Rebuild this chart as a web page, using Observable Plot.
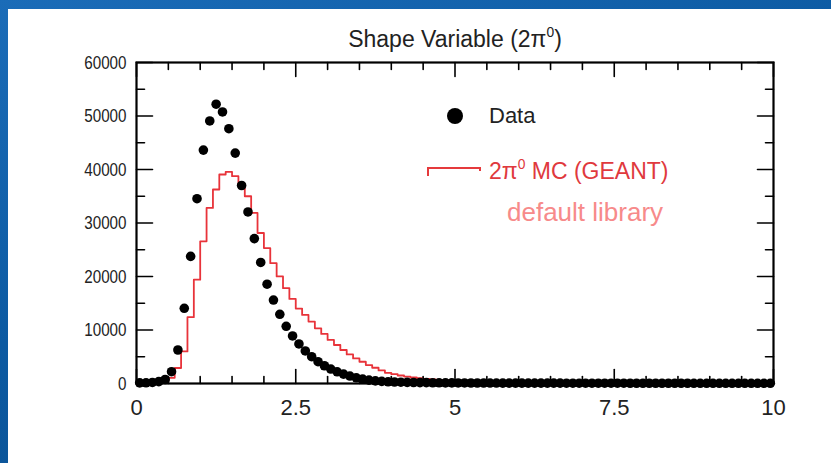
<!DOCTYPE html>
<html>
<head>
<meta charset="utf-8">
<script src="https://cdn.jsdelivr.net/npm/d3@7"></script>
<script src="https://cdn.jsdelivr.net/npm/@observablehq/plot@0.6"></script>
<style>
  html, body { margin: 0; padding: 0; }
  #page { position: relative; width: 831px; height: 463px; overflow: hidden;
    background: linear-gradient(160deg, #1b6cb8 0%, #0c5aa2 45%, #0a4a88 100%);
    font-family: "Liberation Sans", Arial, Helvetica, sans-serif; }
  #panel { position: absolute; left: 8px; top: 9px; right: 0; bottom: 0; background: #fff; }
  #chart { position: absolute; left: 0; top: 0; }
  .abs { position: absolute; white-space: nowrap; line-height: 1; }
  #title { left: 255px; width: 400px; top: 28px; text-align: center; font-size: 23px; color: #222; }
  sup { font-size: 0.6em; line-height: 0; vertical-align: 0.75em; }
</style>
</head>
<body>
<div id="page">
  <div id="panel"></div>
  <div id="chart"></div>
  <div id="title" class="abs">Shape Variable (2&pi;<sup>0</sup>)</div>
  <svg class="abs" style="left:444px;top:105px" width="22" height="22"><circle cx="11" cy="11" r="8" fill="#000"/></svg>
  <div class="abs" style="left:489px;top:105px;font-size:22px;color:#222">Data</div>
  <svg class="abs" style="left:426px;top:164px" width="58" height="16"><path d="M2,12V4H54V7" fill="none" stroke="#e53a3c" stroke-width="2"/></svg>
  <div class="abs" style="left:489px;top:160px;font-size:23px;color:#e0393d">2&pi;<sup>0</sup> MC (GEANT)</div>
  <div class="abs" style="left:507px;top:199px;font-size:26px;color:#f78a8a">default library</div>
</div>
<script>
// ---- data (bins of width 0.1 from 0 to 10) ----
const binWidth = 0.1;
const dataCounts = [
  120, 130, 200, 350, 750, 2200, 6260, 14060, 23760, 34540,
  43630, 49070, 52200, 50760, 47630, 43070, 37010, 32060, 27080, 22630,
  18560, 15600, 12940, 10690, 8890, 7390, 6080, 5010, 4070, 3320,
  2700, 2190, 1760, 1390, 1070, 820, 640, 500, 400, 330,
  280, 240, 210, 190, 170, 155, 140, 130, 120, 110,
  105, 100, 96, 92, 88, 85, 82, 79, 76, 74,
  72, 70, 68, 66, 64, 62, 61, 60, 59, 58,
  57, 56, 55, 54, 53, 52, 51, 50, 49, 48,
  48, 47, 46, 46, 45, 44, 44, 43, 43, 42,
  42, 41, 41, 40, 40, 40, 39, 39, 38, 38
];
const mcCounts = [
  0, 0, 20, 100, 450, 1070, 2900, 6000, 12400, 19400,
  26570, 32810, 36260, 39070, 39560, 38750, 37200, 35000, 31880, 28130,
  25310, 22500, 20010, 17810, 15800, 14000, 12820, 11570, 10310, 9260,
  8140, 7200, 6260, 5440, 4690, 4070, 3450, 2940, 2440, 2000,
  1750, 1500, 1300, 1120, 980, 860, 760, 680, 620, 570,
  530, 500, 480, 460, 450, 440, 430, 420, 410, 405,
  400, 395, 390, 386, 382, 378, 375, 372, 369, 366,
  363, 360, 358, 356, 354, 352, 350, 348, 346, 344,
  342, 340, 338, 337, 336, 335, 334, 333, 332, 331,
  330, 329, 328, 327, 326, 325, 324, 323, 322, 321
];
const xTicks = [0, 2.5, 5, 7.5, 10];
const xTickLabels = ["0", "2.5", "5", "7.5", "10"];
const xMinorTicks = [0.5, 1, 1.5, 2, 3, 3.5, 4, 4.5, 5.5, 6, 6.5, 7, 8, 8.5, 9, 9.5];
const yTicks = [0, 10000, 20000, 30000, 40000, 50000, 60000];
const yTickLabels = ["0", "10000", "20000", "30000", "40000", "50000", "60000"];
const yMinorTicks = [5000, 15000, 25000, 35000, 45000, 55000];

const dots = dataCounts.map((v, i) => ({x: (i + 0.5) * binWidth, v}));
const steps = mcCounts.map((v, i) => ({x: i * binWidth, v}));
steps.push({x: mcCounts.length * binWidth, v: mcCounts[mcCounts.length - 1]});

const tickShape = {draw(ctx, l) { ctx.moveTo(0, 0); ctx.lineTo(0, -l); }};
function ticks(vals, len, side) {
  const o = {shape: tickShape, length: len, anchor: "start", stroke: "#000", strokeWidth: 1.6};
  if (side === "bottom") return Plot.vector(vals, {...o, x: d => d, y: () => 0, rotate: 0});
  if (side === "top") return Plot.vector(vals, {...o, x: d => d, y: () => 60000, rotate: 180});
  if (side === "left") return Plot.vector(vals, {...o, x: () => 0, y: d => d, rotate: 90});
  return Plot.vector(vals, {...o, x: () => 10, y: d => d, rotate: 270});
}

const red = "#e8333a";
const chart = Plot.plot({
  width: 831, height: 463,
  marginLeft: 136, marginRight: 58, marginTop: 62, marginBottom: 80,
  style: {background: "transparent", fontFamily: "Liberation Sans, Arial, sans-serif", color: "#222"},
  x: {domain: [0, 10], axis: null},
  y: {domain: [0, 60000], axis: null},
  length: {type: "identity"},
  marks: [
    Plot.line(steps, {x: "x", y: "v", curve: "step-after", stroke: red, strokeWidth: 1.8}),
    Plot.dot(dots, {x: "x", y: "v", r: 4.8, fill: "#000", stroke: "none"}),
    ticks(xTicks, 14, "bottom"), ticks(xMinorTicks, 7, "bottom"),
    ticks(xTicks, 14, "top"), ticks(xMinorTicks, 7, "top"),
    ticks(yTicks, 16, "left"), ticks(yMinorTicks, 8, "left"),
    ticks(yTicks, 16, "right"), ticks(yMinorTicks, 8, "right"),
    Plot.frame({stroke: "#000", strokeWidth: 2.2}),
    Plot.axisX({ticks: xTicks, tickSize: 0, tickPadding: 16, fontSize: 22, label: null,
      tickFormat: d => xTickLabels[xTicks.indexOf(d)]}),
    Plot.axisY({ticks: yTicks, tickSize: 0, tickPadding: 10, fontSize: 19, label: null,
      tickFormat: d => yTickLabels[yTicks.indexOf(d)]})
  ]
});
// condense the y tick labels horizontally (the reference uses a narrow face)
d3.select(chart).selectAll("text").each(function() {
  const label = this.textContent;
  if (!yTickLabels.includes(label) || label === "0" && +this.closest("g").getAttribute("font-size") !== 19) return;
  const g = this.closest("g");
  if (g.getAttribute("text-anchor") !== "end") return;
  const t = this.getAttribute("transform") || "";
  this.setAttribute("transform", t + " scale(0.8,1)");
});
document.getElementById("chart").appendChild(chart);
</script>
</body>
</html>
